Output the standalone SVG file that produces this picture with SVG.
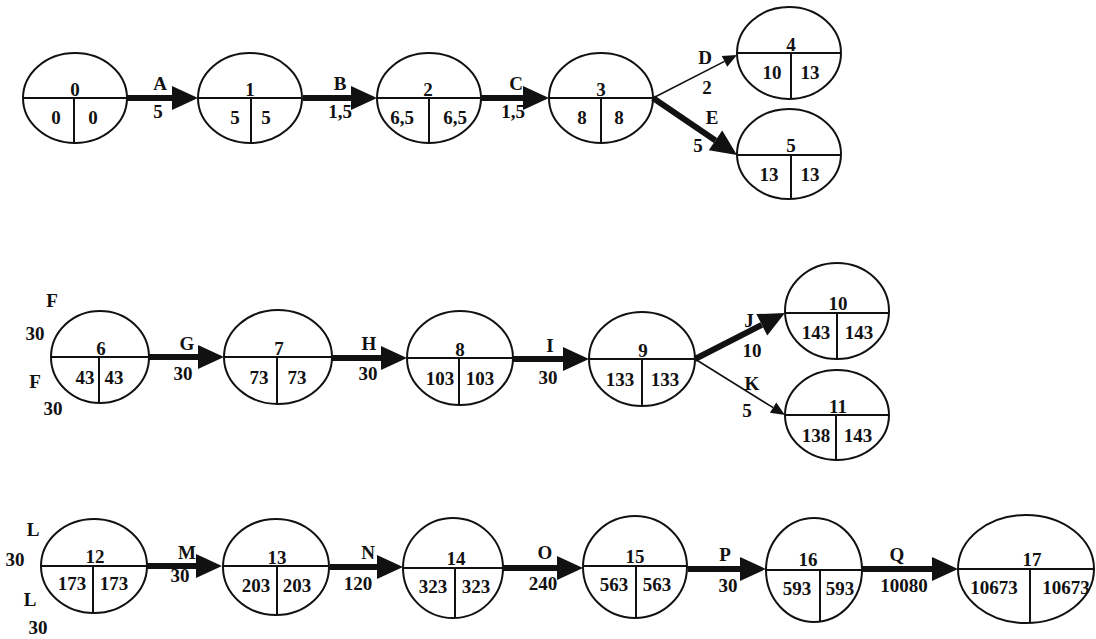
<svg xmlns="http://www.w3.org/2000/svg" width="1096" height="639" viewBox="0 0 1096 639">
<style>
.n ellipse{fill:none;stroke:#111;stroke-width:2}
.n line{stroke:#111;stroke-width:2}
text{font-family:"Liberation Serif","Times New Roman",serif;font-size:19px;fill:#111;text-anchor:middle;font-weight:bold}
.thick{stroke:#111;stroke-width:6;fill:none}
.thin{stroke:#111;stroke-width:1.6;fill:none}
</style>
<defs>
<marker id="hb" markerUnits="userSpaceOnUse" markerWidth="28" markerHeight="28" refX="0" refY="12" orient="auto" overflow="visible">
<path d="M0,0 L26,12 L0,24 z" fill="#111"/>
</marker>
<marker id="hs" markerUnits="userSpaceOnUse" markerWidth="16" markerHeight="16" refX="0" refY="6" orient="auto" overflow="visible">
<path d="M0,0 L14,6 L0,12 z" fill="#111"/>
</marker>
</defs>
<rect width="1096" height="639" fill="#fff"/>

<g id="connectors">
<line class="thick" x1="126" y1="98" x2="172" y2="98" marker-end="url(#hb)"/>
<line class="thick" x1="303" y1="98" x2="351" y2="98" marker-end="url(#hb)"/>
<line class="thick" x1="481" y1="98" x2="523" y2="98" marker-end="url(#hb)"/>
<line class="thin" x1="653" y1="98" x2="724.5" y2="61.4" marker-end="url(#hs)"/>
<line class="thick" x1="653" y1="98" x2="715.5" y2="140.4" marker-end="url(#hb)"/>
<line class="thick" x1="149" y1="357" x2="198" y2="357" marker-end="url(#hb)"/>
<line class="thick" x1="332" y1="358" x2="381" y2="358" marker-end="url(#hb)"/>
<line class="thick" x1="513" y1="359" x2="563" y2="359" marker-end="url(#hb)"/>
<line class="thick" x1="695" y1="359" x2="761.8" y2="324.8" marker-end="url(#hb)"/>
<line class="thin" x1="695" y1="359" x2="773.1" y2="407.6" marker-end="url(#hs)"/>
<line class="thick" x1="147" y1="566" x2="196" y2="566" marker-end="url(#hb)"/>
<line class="thick" x1="330" y1="567" x2="377" y2="567" marker-end="url(#hb)"/>
<line class="thick" x1="502" y1="568" x2="557" y2="568" marker-end="url(#hb)"/>
<line class="thick" x1="688" y1="569" x2="740" y2="569" marker-end="url(#hb)"/>
<line class="thick" x1="862" y1="569" x2="932" y2="569" marker-end="url(#hb)"/>
<text x="160" y="90">A</text><text x="158" y="118">5</text>
<text x="340" y="90">B</text><text x="340" y="118">1,5</text>
<text x="516" y="90">C</text><text x="513" y="118">1,5</text>
<text x="705" y="64">D</text><text x="707" y="94">2</text>
<text x="712" y="124">E</text><text x="698" y="152">5</text>
<text x="52" y="307">F</text><text x="35" y="340">30</text>
<text x="35" y="388">F</text><text x="53" y="415">30</text>
<text x="187" y="350">G</text><text x="183" y="380">30</text>
<text x="369" y="350">H</text><text x="368" y="380">30</text>
<text x="550" y="352">I</text><text x="548" y="384">30</text>
<text x="749" y="327">J</text><text x="752" y="357">10</text>
<text x="752" y="390">K</text><text x="747" y="417">5</text>
<text x="33" y="536">L</text><text x="15" y="566">30</text>
<text x="30" y="606">L</text><text x="38" y="634">30</text>
<text x="187" y="559">M</text><text x="180" y="582">30</text>
<text x="368" y="559">N</text><text x="358" y="590">120</text>
<text x="545" y="559">O</text><text x="543" y="590">240</text>
<text x="725" y="561">P</text><text x="728" y="592">30</text>
<text x="897" y="561">Q</text><text x="904" y="592">10080</text>
</g>

<g id="node0" class="n"><ellipse cx="75" cy="98" rx="52" ry="45"/><line x1="23" y1="98" x2="127" y2="98"/><line x1="74" y1="98" x2="74" y2="143"/><text x="75" y="96">0</text><text x="56" y="124">0</text><text x="93" y="124">0</text></g>
<g id="node1" class="n"><ellipse cx="250" cy="98" rx="52" ry="45"/><line x1="198" y1="98" x2="302" y2="98"/><line x1="251" y1="98" x2="251" y2="143"/><text x="250" y="96">1</text><text x="235" y="124">5</text><text x="266" y="124">5</text></g>
<g id="node2" class="n"><ellipse cx="429" cy="98" rx="52" ry="45"/><line x1="377" y1="98" x2="481" y2="98"/><line x1="429" y1="98" x2="429" y2="143"/><text x="428" y="96">2</text><text x="402" y="124">6,5</text><text x="455" y="124">6,5</text></g>
<g id="node3" class="n"><ellipse cx="601" cy="98" rx="52" ry="45"/><line x1="549" y1="98" x2="653" y2="98"/><line x1="601" y1="98" x2="601" y2="143"/><text x="601" y="96">3</text><text x="582" y="124">8</text><text x="619" y="124">8</text></g>
<g id="node4" class="n"><ellipse cx="789" cy="53" rx="52" ry="46"/><line x1="737" y1="53" x2="841" y2="53"/><line x1="791" y1="53" x2="791" y2="99"/><text x="791" y="51">4</text><text x="772" y="79">10</text><text x="810" y="79">13</text></g>
<g id="node5" class="n"><ellipse cx="789" cy="154" rx="52" ry="45"/><line x1="737" y1="155" x2="841" y2="155"/><line x1="791" y1="155" x2="791" y2="199"/><text x="791" y="152">5</text><text x="769" y="181">13</text><text x="810" y="181">13</text></g>
<g id="node6" class="n"><ellipse cx="100" cy="357" rx="49" ry="46"/><line x1="51" y1="357" x2="149" y2="357"/><line x1="99" y1="357" x2="99" y2="403"/><text x="101" y="355">6</text><text x="85" y="384">43</text><text x="114" y="384">43</text></g>
<g id="node7" class="n"><ellipse cx="278" cy="357" rx="54" ry="47"/><line x1="224" y1="357" x2="332" y2="357"/><line x1="277" y1="357" x2="277" y2="404"/><text x="279" y="355">7</text><text x="259" y="384">73</text><text x="297" y="384">73</text></g>
<g id="node8" class="n"><ellipse cx="460" cy="358" rx="53" ry="47"/><line x1="407" y1="358" x2="513" y2="358"/><line x1="459" y1="358" x2="459" y2="405"/><text x="460" y="356">8</text><text x="440" y="385">103</text><text x="480" y="385">103</text></g>
<g id="node9" class="n"><ellipse cx="642" cy="359" rx="53" ry="47"/><line x1="589" y1="359" x2="695" y2="359"/><line x1="642" y1="359" x2="642" y2="406"/><text x="643" y="357">9</text><text x="620" y="386">133</text><text x="665" y="386">133</text></g>
<g id="node10" class="n"><ellipse cx="837" cy="311" rx="52" ry="48"/><line x1="785" y1="313" x2="889" y2="313"/><line x1="837" y1="313" x2="837" y2="359"/><text x="838" y="310">10</text><text x="816" y="339">143</text><text x="859" y="339">143</text></g>
<g id="node11" class="n"><ellipse cx="837" cy="415" rx="52" ry="45"/><line x1="785" y1="415" x2="889" y2="415"/><line x1="836" y1="415" x2="836" y2="460"/><text x="838" y="413">11</text><text x="816" y="442">138</text><text x="858" y="442">143</text></g>
<g id="node12" class="n"><ellipse cx="94" cy="566" rx="53" ry="47"/><line x1="41" y1="566" x2="147" y2="566"/><line x1="93" y1="566" x2="93" y2="613"/><text x="95" y="563">12</text><text x="72" y="590">173</text><text x="114" y="590">173</text></g>
<g id="node13" class="n"><ellipse cx="276" cy="567" rx="53" ry="48"/><line x1="223" y1="566" x2="329" y2="566"/><line x1="277" y1="566" x2="277" y2="615"/><text x="277" y="564">13</text><text x="256" y="592">203</text><text x="297" y="592">203</text></g>
<g id="node14" class="n"><ellipse cx="453" cy="568" rx="50" ry="50"/><line x1="403" y1="568" x2="503" y2="568"/><line x1="455" y1="568" x2="455" y2="618"/><text x="456" y="565">14</text><text x="433" y="593">323</text><text x="476" y="593">323</text></g>
<g id="node15" class="n"><ellipse cx="635" cy="567" rx="52" ry="51"/><line x1="583" y1="566" x2="687" y2="566"/><line x1="636" y1="566" x2="636" y2="618"/><text x="635" y="563">15</text><text x="614" y="591">563</text><text x="657" y="591">563</text></g>
<g id="node16" class="n"><ellipse cx="814" cy="570" rx="48" ry="52"/><line x1="766" y1="570" x2="862" y2="570"/><line x1="820" y1="570" x2="820" y2="622"/><text x="808" y="566">16</text><text x="797" y="595">593</text><text x="840" y="595">593</text></g>
<g id="node17" class="n"><ellipse cx="1026" cy="569" rx="68" ry="54"/><line x1="958" y1="569" x2="1094" y2="569"/><line x1="1030" y1="569" x2="1030" y2="623"/><text x="1032" y="566">17</text><text x="994" y="594">10673</text><text x="1066" y="594">10673</text></g>
</svg>
